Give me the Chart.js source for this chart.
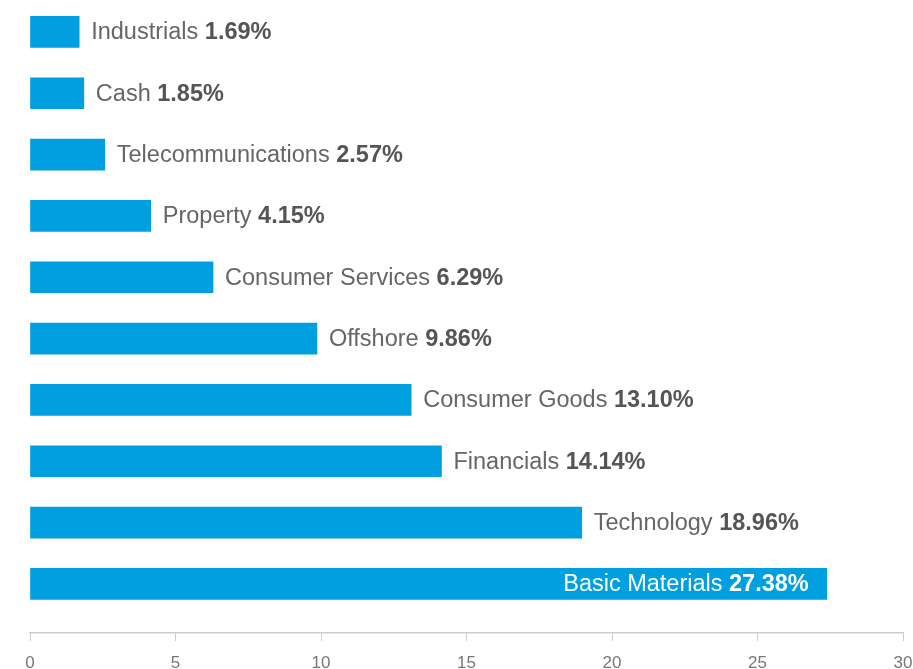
<!DOCTYPE html>
<html>
<head>
<meta charset="utf-8">
<script src="https://cdn.jsdelivr.net/npm/chart.js@4/dist/chart.umd.min.js"></script>
<style>
  html, body { margin: 0; padding: 0; background: #fff; }
  #wrap { width: 913px; height: 669px; }
</style>
</head>
<body>
<div id="wrap"><canvas id="myChart"></canvas></div>
<script>
const sectors = ["Industrials", "Cash", "Telecommunications", "Property", "Consumer Services",
  "Offshore", "Consumer Goods", "Financials", "Technology", "Basic Materials"];
const weights = [1.69, 1.85, 2.57, 4.15, 6.29, 9.86, 13.10, 14.14, 18.96, 27.38];
const weightLabels = ["1.69%", "1.85%", "2.57%", "4.15%", "6.29%", "9.86%", "13.10%", "14.14%", "18.96%", "27.38%"];
const xMin = 0, xMax = 30, xStep = 5;

const FONT = "'Liberation Sans', Arial, sans-serif";
const LABEL_SIZE = 23.5;

// labels next to each bar: name in regular, value in bold
const barLabels = {
  id: "barLabels",
  afterDatasetsDraw(chart) {
    const ctx = chart.ctx;
    const meta = chart.getDatasetMeta(0);
    ctx.save();
    ctx.textBaseline = "middle";
    meta.data.forEach((bar, i) => {
      const name = sectors[i] + " ";
      const val = weightLabels[i];
      ctx.font = LABEL_SIZE + "px " + FONT;
      const w1 = ctx.measureText(name).width;
      ctx.font = "bold " + LABEL_SIZE + "px " + FONT;
      const w2 = ctx.measureText(val).width;
      let x = bar.x + 12;
      let color = "#666";
      let valColor = "#555";
      if (x + w1 + w2 > chart.chartArea.right) {
        x = bar.x - 18 - w1 - w2;
        color = "#fff";
        valColor = "#fff";
      }
      const y = bar.y + 1;
      ctx.font = LABEL_SIZE + "px " + FONT;
      ctx.fillStyle = color;
      ctx.fillText(name, x, y);
      ctx.font = "bold " + LABEL_SIZE + "px " + FONT;
      ctx.fillStyle = valColor;
      ctx.fillText(val, x + w1, y);
    });
    ctx.restore();
  }
};

const ctx = document.getElementById("myChart").getContext("2d");
new Chart(ctx, {
  type: "bar",
  data: {
    datasets: [{
      data: weights.map((v, i) => ({ x: v, y: i })),
      backgroundColor: "#009FE0",
      borderWidth: 0,
      barThickness: 31
    }]
  },
  options: {
    indexAxis: "y",
    responsive: true,
    maintainAspectRatio: false,
    animation: false,
    layout: { padding: { left: 30, right: 10, top: 0, bottom: 0 } },
    plugins: {
      legend: { display: false },
      tooltip: { enabled: false }
    },
    scales: {
      y: {
        type: "linear",
        reverse: true,
        offset: false,
        min: -0.52,
        max: 9.8,
        display: false
      },
      x: {
        type: "linear",
        min: xMin,
        max: xMax,
        afterFit(scale) {
          scale.height = 36;
          scale.paddingLeft = 0;
          scale.paddingRight = 0;
        },
        ticks: {
          stepSize: xStep,
          color: "#777",
          font: { family: FONT, size: 17 },
          padding: 12,
          maxRotation: 0
        },
        grid: {
          drawOnChartArea: false,
          drawTicks: true,
          tickLength: 8,
          color: "#ccc"
        },
        border: { color: "#ccc", width: 1.5 }
      }
    }
  },
  plugins: [barLabels]
});
</script>
</body>
</html>
